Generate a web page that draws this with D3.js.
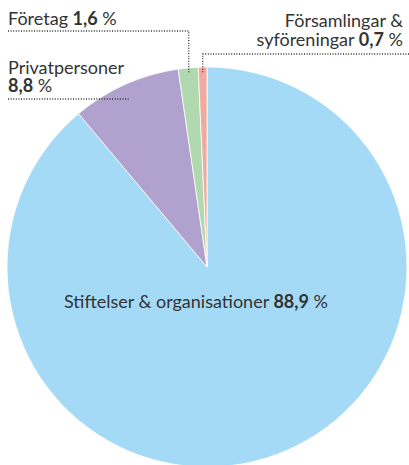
<!DOCTYPE html>
<html>
<head>
<meta charset="utf-8">
<script src="https://cdn.jsdelivr.net/npm/d3@7"></script>
<style>
  html, body { margin: 0; padding: 0; background: #fff; }
  svg { display: block; font-family: Lato, "Open Sans", sans-serif; }
</style>
</head>
<body>
<div id="chart"></div>
<script>
(function(){
  // shares in percent, clockwise from 12 o'clock
  const categories = ['Stiftelser & organisationer', 'Privatpersoner', 'Företag', 'Församlingar & syföreningar'];
  const values = [88.9, 8.8, 1.6, 0.7];
  const valueLabels = ['88,9', '8,8', '1,6', '0,7'];
  const sliceColors = ['#a4daf6', '#b1a1cf', '#b1d9b0', '#f0aaa0'];

  const W = 409, H = 465;
  const cx = 207, cy = 267, R = 200;
  const ink = '#333';

  const svg = d3.select('#chart').append('svg').attr('width', W).attr('height', H);

  const pie = d3.pie().sort(null).value(d => d.v);
  const arcs = pie(values.map((v,i) => ({v, name: categories[i], color: sliceColors[i]})));
  const arc = d3.arc().innerRadius(0).outerRadius(R);

  const g = svg.append('g').attr('transform', `translate(${cx},${cy})`);
  g.selectAll('path').data(arcs).enter().append('path')
    .attr('d', arc)
    .attr('fill', d => d.data.color)
    .attr('stroke', '#fff')
    .attr('stroke-width', 0.8);

  // point on the rim at the middle of a slice
  function rim(i, off) {
    const a = (arcs[i].startAngle + arcs[i].endAngle) / 2;
    return [cx + Math.sin(a) * (R + (off||0)), cy - Math.cos(a) * (R + (off||0))];
  }

  const fs = 18;
  // lines: array of [plainText, boldValue]; bold value gets ' %' after it
  function label(x, y, anchor, lines, lh) {
    const t = svg.append('text').attr('x', x).attr('y', y).attr('text-anchor', anchor)
      .attr('fill', ink).style('font-size', fs + 'px');
    lines.forEach((ln, i) => {
      let first = null;
      if (ln[0]) first = t.append('tspan').text(ln[1] == null ? ln[0] : ln[0] + ' ');
      if (ln[1] != null) {
        const b = t.append('tspan').attr('font-weight', 700).text(ln[1]);
        if (!first) first = b;
        t.append('tspan').text(' %');
      }
      first.attr('x', x).attr('dy', i ? lh : 0);
    });
    return t;
  }
  const dotted = (pts) => svg.append('path')
    .attr('d', d3.line()(pts))
    .attr('fill', 'none').attr('stroke', ink).attr('stroke-width', 1.3)
    .attr('stroke-dasharray', '1 1.6');

  // Företag
  label(8, 25, 'start', [[categories[2], valueLabels[2]]]);
  const pF = rim(2, -6);
  dotted([[8, 31], [pF[0], 31], [pF[0], pF[1]]]);

  // Privatpersoner
  label(8, 74, 'start', [[categories[1], null], ['', valueLabels[1]]], 18);
  dotted([[8, 99], [130, 99]]);

  // Församlingar & syföreningar
  label(403, 27, 'end', [['Församlingar &', null], ['syföreningar', valueLabels[3]]], 19);
  const pS = rim(3, -6);
  dotted([[409, 54], [pS[0], 54], [pS[0], pS[1]]]);

  // Stiftelser
  label(196, 308, 'middle', [[categories[0], valueLabels[0]]]);
})();
</script>
</body>
</html>
